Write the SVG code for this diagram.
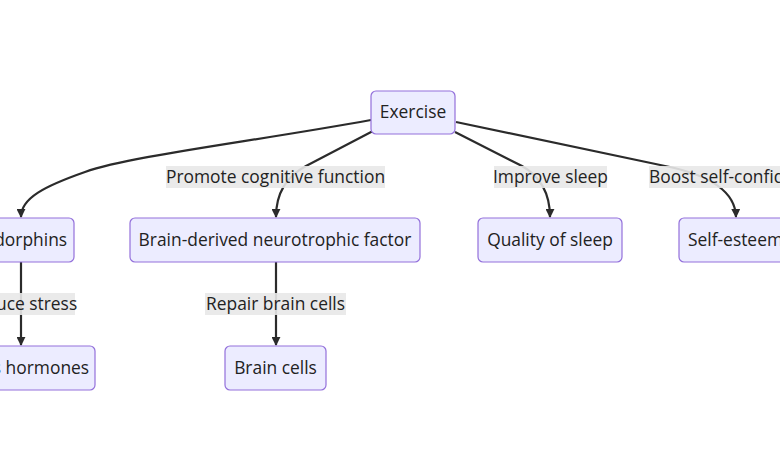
<svg xmlns="http://www.w3.org/2000/svg" width="780" height="470" viewBox="0 0 780 470">
<style>
.node rect{fill:#ECECFF;stroke:#9370DB;stroke-width:1.2}
text{font-family:"Open Sans","DejaVu Sans",sans-serif;font-size:17.4px;fill:#222;text-anchor:middle}
.edge{fill:none;stroke:#2b2b2b;stroke-width:2.2}
.lbl rect{fill:#e8e8e8;opacity:0.9}
</style>
<defs>
<marker id="arrow" viewBox="0 0 10 10" refX="9" refY="5" markerUnits="userSpaceOnUse" markerWidth="9" markerHeight="9" orient="auto">
<path d="M0,0 L10,5 L0,10 z" fill="#2b2b2b"/>
</marker>
</defs>
<rect width="780" height="470" fill="#fff"/>
<g id="connectors">
<path class="edge" d="M371,120 C250,142 130,156 85,172 C45,186 21,198 21,217" marker-end="url(#arrow)"/>
<path class="edge" d="M373,131 L306,166 Q276,182 276,217" marker-end="url(#arrow)"/>
<path class="edge" d="M455,132 L522,166 Q550,182 550,217" marker-end="url(#arrow)"/>
<path class="edge" d="M456,122 L665,166 Q735,180 736,217" marker-end="url(#arrow)"/>
<path class="edge" d="M21,262 L21,345" marker-end="url(#arrow)"/>
<path class="edge" d="M276,262 L276,345" marker-end="url(#arrow)"/>
</g>
<g id="edge-labels">
<g class="lbl"><rect x="166" y="166" width="219" height="22"/><text x="275.5" y="183">Promote cognitive function</text></g>
<g class="lbl"><rect x="494" y="166" width="113" height="22"/><text x="550.5" y="183">Improve sleep</text></g>
<g class="lbl"><rect x="649" y="166" width="175" height="22"/><text x="736" y="183">Boost self-confidence</text></g>
<g class="lbl"><rect x="-33" y="293" width="108" height="22"/><text x="21" y="310">Reduce stress</text></g>
<g class="lbl"><rect x="205" y="293" width="141" height="22"/><text x="275.5" y="310">Repair brain cells</text></g>
</g>
<g id="exercise" class="node"><rect x="371" y="91" width="84" height="43" rx="5"/><text x="413" y="118">Exercise</text></g>
<g id="endorphins" class="node"><rect x="-33" y="218" width="107" height="44" rx="5"/><text x="20.5" y="246">Endorphins</text></g>
<g id="bdnf" class="node"><rect x="130" y="218" width="290" height="44" rx="5"/><text x="275" y="246">Brain-derived neurotrophic factor</text></g>
<g id="sleep" class="node"><rect x="478" y="218" width="144" height="44" rx="5"/><text x="550" y="246">Quality of sleep</text></g>
<g id="selfesteem" class="node"><rect x="679" y="218" width="113" height="44" rx="5"/><text x="735.5" y="246">Self-esteem</text></g>
<g id="stress" class="node"><rect x="-54" y="346" width="149" height="44" rx="5"/><text x="20.5" y="374">Stress hormones</text></g>
<g id="braincells" class="node"><rect x="225" y="346" width="101" height="44" rx="5"/><text x="275.5" y="374">Brain cells</text></g>
</svg>
